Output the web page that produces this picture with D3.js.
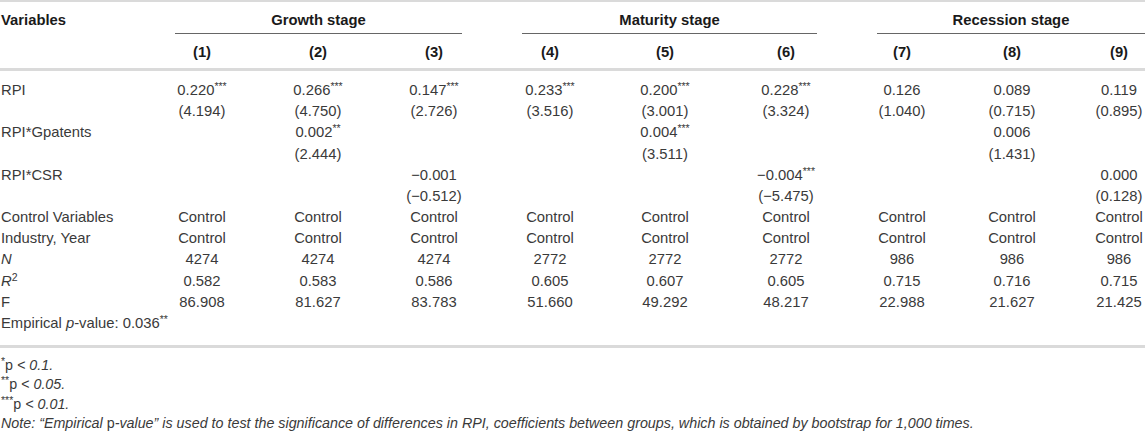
<!DOCTYPE html>
<html>
<head>
<meta charset="utf-8">
<script src="https://cdn.jsdelivr.net/npm/d3@7"></script>
<style>
  body { margin: 0; background: #fff; }
  svg { display: block; font-family: "Liberation Sans", Arial, Helvetica, sans-serif; }
</style>
</head>
<body>
<svg id="tbl"></svg>
<script>
// table values
var colLabels = ["(1)", "(2)", "(3)", "(4)", "(5)", "(6)", "(7)", "(8)", "(9)"];
var groupNames = ["Growth stage", "Maturity stage", "Recession stage"];
var groupCols = [[0, 2], [3, 5], [6, 8]];

var rpiCoef = [0.220, 0.266, 0.147, 0.233, 0.200, 0.228, 0.126, 0.089, 0.119];
var rpiStars = ["***", "***", "***", "***", "***", "***", "", "", ""];
var rpiT = [4.194, 4.750, 2.726, 3.516, 3.001, 3.324, 1.040, 0.715, 0.895];

var gpatCoef = [null, 0.002, null, null, 0.004, null, null, 0.006, null];
var gpatStars = ["", "**", "", "", "***", "", "", "", ""];
var gpatT = [null, 2.444, null, null, 3.511, null, null, 1.431, null];

var csrCoef = [null, null, -0.001, null, null, -0.004, null, null, 0.000];
var csrStars = ["", "", "", "", "", "***", "", "", ""];
var csrT = [null, null, -0.512, null, null, -5.475, null, null, 0.128];

var obsN = [4274, 4274, 4274, 2772, 2772, 2772, 986, 986, 986];
var rSquared = [0.582, 0.583, 0.586, 0.605, 0.607, 0.605, 0.715, 0.716, 0.715];
var fStat = [86.908, 81.627, 83.783, 51.660, 49.292, 48.217, 22.988, 21.627, 21.425];

var svgWidth = 1145, svgHeight = 431;
var svg = d3.select("#tbl").attr("width", svgWidth).attr("height", svgHeight);

var f3 = d3.format(".3f");
var fs = 14.8;

// column centres (cells are not evenly spaced in the original)
var x = d3.scaleOrdinal()
  .domain(d3.range(9))
  .range([202, 318, 434, 550, 665, 786, 902, 1012, 1119]);
var groupX = [[175, 462], [522, 817], [877, 1145]];

var y = d3.scaleLinear().domain([0, 11]).range([95, 328]);
var noteY = d3.scaleLinear().domain([0, 3]).range([370, 428]);

var textCol = "#3a3a3a", headCol = "#1a1a1a", ruleCol = "#dadada";

function coefCells(v, s) {
  return v.map(function(d, i) { return d == null ? null : { t: f3(d), sup: s[i] }; });
}
function tCells(v) {
  return v.map(function(d) { return d == null ? null : { t: "(" + f3(d) + ")" }; });
}
function plainCells(v, fmt) {
  return v.map(function(d) { return { t: fmt ? fmt(d) : String(d) }; });
}
var ctrl = colLabels.map(function() { return { t: "Control" }; });

var rows = [
  { label: [{ t: "RPI" }], cells: coefCells(rpiCoef, rpiStars) },
  { label: [], cells: tCells(rpiT) },
  { label: [{ t: "RPI*Gpatents" }], cells: coefCells(gpatCoef, gpatStars) },
  { label: [], cells: tCells(gpatT) },
  { label: [{ t: "RPI*CSR" }], cells: coefCells(csrCoef, csrStars) },
  { label: [], cells: tCells(csrT) },
  { label: [{ t: "Control Variables" }], cells: ctrl },
  { label: [{ t: "Industry, Year" }], cells: ctrl },
  { label: [{ t: "N", i: true }], cells: plainCells(obsN) },
  { label: [{ t: "R", i: true }, { t: "2", sup: true }], cells: plainCells(rSquared, f3) },
  { label: [{ t: "F" }], cells: plainCells(fStat, f3) },
  { label: [{ t: "Empirical " }, { t: "p", i: true }, { t: "-value: 0.036" }, { t: "**", sup: true }], cells: [] }
];

var notes = [
  [{ t: "*", sup: true }, { t: "p" }, { t: " < 0.1.", i: true }],
  [{ t: "**", sup: true }, { t: "p" }, { t: " < 0.05.", i: true }],
  [{ t: "***", sup: true }, { t: "p" }, { t: " < 0.01.", i: true }],
  [{ t: "Note: \u201cEmpirical ", i: true }, { t: "p" },
   { t: "-value\u201d is used to test the significance of differences in RPI, coefficients between groups, which is obtained by bootstrap for 1,000 times.", i: true }]
];

// write a list of runs into a text element
function runs(sel, parts) {
  var raised = false;
  parts.forEach(function(p) {
    var ts = sel.append("tspan").text(p.t);
    if (p.i) ts.attr("font-style", "italic");
    if (p.sup) {
      ts.attr("font-size", 10.5).attr("dy", -5);
      raised = true;
    } else if (raised) {
      ts.attr("dy", 5);
      raised = false;
    }
  });
}

// rules
svg.append("rect").attr("x", 0).attr("y", 0).attr("width", svgWidth).attr("height", 2).attr("fill", ruleCol);
svg.append("rect").attr("x", 0).attr("y", 68).attr("width", svgWidth).attr("height", 3).attr("fill", ruleCol);
svg.append("rect").attr("x", 0).attr("y", 345).attr("width", svgWidth).attr("height", 3).attr("fill", ruleCol);

// header
var head = svg.append("g").attr("font-weight", "bold").attr("font-size", fs).attr("fill", headCol);
head.append("text").attr("x", 1).attr("y", 25).text("Variables");

head.selectAll(".grp").data(groupNames).enter().append("text")
  .attr("class", "grp")
  .attr("x", function(d, i) { return (groupX[i][0] + groupX[i][1]) / 2; })
  .attr("y", 25)
  .attr("text-anchor", "middle")
  .text(function(d) { return d; });

svg.selectAll(".grpline").data(groupCols).enter().append("line")
  .attr("x1", function(d, i) { return groupX[i][0]; })
  .attr("x2", function(d, i) { return groupX[i][1]; })
  .attr("y1", 33.5).attr("y2", 33.5)
  .attr("stroke", "#666").attr("stroke-width", 1);

head.selectAll(".col").data(colLabels).enter().append("text")
  .attr("x", function(d, i) { return x(i); })
  .attr("y", 57)
  .attr("text-anchor", "middle")
  .text(function(d) { return d; });

// body
var body = svg.append("g").attr("font-size", fs).attr("fill", textCol);
var row = body.selectAll(".row").data(rows).enter().append("g").attr("class", "row");

row.append("text")
  .attr("x", 1)
  .attr("y", function(d, i) { return y(i); })
  .each(function(d) { runs(d3.select(this), d.label); });

row.each(function(d, i) {
  d3.select(this).selectAll(".cell")
    .data(d.cells.map(function(c, j) { return { c: c, j: j }; }).filter(function(e) { return e.c; }))
    .enter().append("text")
    .attr("class", "cell")
    .attr("x", function(e) { return x(e.j); })
    .attr("y", y(i))
    .attr("text-anchor", "middle")
    .each(function(e) {
      var parts = [{ t: e.c.t }];
      if (e.c.sup) parts.push({ t: e.c.sup, sup: true });
      runs(d3.select(this), parts);
    });
});

// footnotes
body.selectAll(".note").data(notes).enter().append("text")
  .attr("class", "note")
  .attr("x", 1)
  .attr("font-size", 14.3)
  .attr("y", function(d, i) { return noteY(i); })
  .each(function(d) { runs(d3.select(this), d); });
</script>
</body>
</html>
